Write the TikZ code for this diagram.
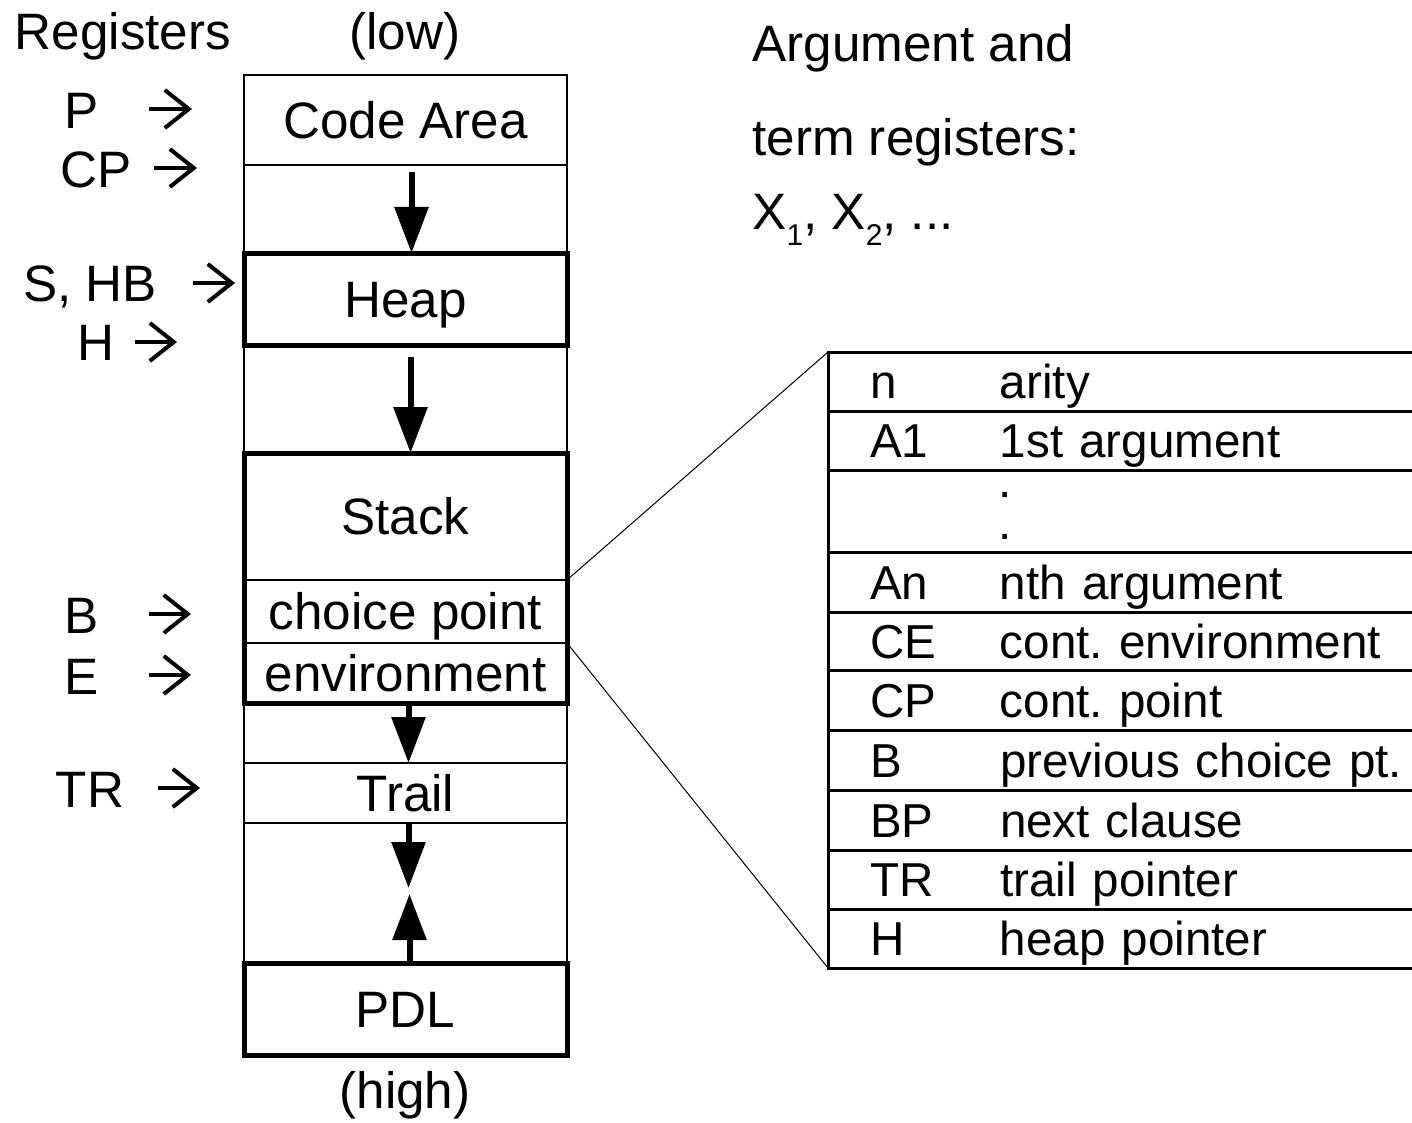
\documentclass[tikz,border=0pt]{standalone}
\usepackage{fontspec}
\setmainfont{Liberation Sans}
\usetikzlibrary{positioning, arrows.meta}
\tikzstyle{memcell} = [rectangle, draw=black, line width=0.6pt, outer sep=0pt, inner sep=0pt, minimum width=161.5pt, text height=19pt, text depth=0.6pt]
\tikzstyle{memarea} = [memcell, line width=2.5pt]
\tikzstyle{reglabel} = [inner sep=0pt, text height=19pt, text depth=0.6pt]
\tikzstyle{ptrarrow} = [line width=2pt, -{Straight Barb[length=12pt, width=19pt]}]
\tikzstyle{tabrow} = [rectangle, draw=black, line width=1.5pt, outer sep=0pt, inner xsep=21pt, inner ysep=0pt, minimum width=310pt, text width=268pt, align=left, font=\fontsize{23.8}{28}\selectfont, text height=17.6pt, text depth=0.6pt]
\tikzstyle{tabdot} = [anchor=base west, inner sep=0pt, text height=3pt, text depth=0pt, font=\fontsize{23.8}{28}\selectfont]
\tikzstyle{growarrow} = [line width=3pt, -{Triangle[width=16.5pt, length=23pt]}]

\begin{document}
\frenchspacing
\begin{tikzpicture}[x=0.5pt, y=-0.5pt, font=\fontsize{25.6}{30}\selectfont]
        \useasboundingbox (0,0) rectangle (1412,1123);
        % Memory areas
        \node (code) [memcell, minimum height=45pt] at (405.5,120) {Code Area};
        \node (freeA) [memcell, minimum height=44pt, below=0pt of code] {};
        \node (heap) [memarea, minimum height=46pt, below=0pt of freeA] {Heap};
        \node (freeB) [memcell, minimum height=54pt, below=0pt of heap] {};
        \node (stk) [memcell, minimum height=63.5pt, below=0pt of freeB] {Stack};
        \node (choice) [memcell, minimum height=31.5pt, below=0pt of stk] {choice point};
        \node (env) [memcell, minimum height=30pt, below=0pt of choice] {environment};
        \node (freeC) [memcell, minimum height=30pt, below=0pt of env] {};
        \node (trail) [memcell, minimum height=30pt, below=0pt of freeC] {Trail};
        \node (freeD) [memcell, minimum height=70pt, below=0pt of trail] {};
        \node (pdl) [memarea, minimum height=46pt, below=0pt of freeD] {PDL};
        \draw [line width=2.5pt] (stk.north west) rectangle (env.south east);
        \node (low) [reglabel] at (405,31) {(low)};
        \node (high) [reglabel] at (405,1090) {(high)};

        % Registers
        \node (regs) [reglabel] at (123,31) {Registers};
        \node (regP) [reglabel] at (82,110) {P};
        \node (regCP) [reglabel] at (96,169) {CP};
        \node (regS) [reglabel] at (90,283) {S, HB};
        \node (regH) [reglabel] at (96,342) {H};
        \node (regB) [reglabel] at (82,615) {B};
        \node (regE) [reglabel] at (82,676) {E};
        \node (regTR) [reglabel] at (90,789) {TR};
        \coordinate (ptrP) at (149,109);
        \coordinate (ptrCP) at (154,168);
        \coordinate (ptrS) at (193,283);
        \coordinate (ptrH) at (135,342);
        \coordinate (ptrB) at (149,614);
        \coordinate (ptrE) at (149,675);
        \coordinate (ptrTR) at (158,788);
        \draw [ptrarrow] (ptrP) -- ++(43,0);
        \draw [ptrarrow] (ptrCP) -- ++(43,0);
        \draw [ptrarrow] (ptrS) -- ++(42,0);
        \draw [ptrarrow] (ptrH) -- ++(42,0);
        \draw [ptrarrow] (ptrB) -- ++(42,0);
        \draw [ptrarrow] (ptrE) -- ++(42,0);
        \draw [ptrarrow] (ptrTR) -- ++(42,0);

        % Argument registers
        \node (argA) [anchor=base west, inner sep=0pt] at (752,62) {Argument and};
        \node (argB) [anchor=base west, inner sep=0pt] at (752,156) {term registers:};
        \node (argC) [anchor=base west, inner sep=0pt] at (752,229) {X\raisebox{-8.5pt}{\fontsize{15}{15}\selectfont 1}, X\raisebox{-8.5pt}{\fontsize{15}{15}\selectfont 2}, ...};

        % Choice point frame
        \node (r1) [tabrow, minimum height=29.5pt, anchor=north west] at (828,352) {\makebox[65pt][l]{n}arity};
        \node (r2) [tabrow, minimum height=29.5pt, below=0pt of r1] {\makebox[65pt][l]{A1}1st argument};
        \node (r3) [tabrow, minimum height=41pt, below=0pt of r2] {};
        \node (r4) [tabrow, minimum height=30pt, below=0pt of r3] {\makebox[65pt][l]{An}nth argument};
        \node (r5) [tabrow, minimum height=29pt, below=0pt of r4] {\makebox[65pt][l]{CE}cont. environment};
        \node (r6) [tabrow, minimum height=30pt, below=0pt of r5] {\makebox[65pt][l]{CP}cont. point};
        \node (r7) [tabrow, minimum height=30pt, below=0pt of r6] {\makebox[65pt][l]{B}previous choice pt.};
        \node (r8) [tabrow, minimum height=30pt, below=0pt of r7] {\makebox[65pt][l]{BP}next clause};
        \node (r9) [tabrow, minimum height=29.5pt, below=0pt of r8] {\makebox[65pt][l]{TR}trail pointer};
        \node (r10) [tabrow, minimum height=29.5pt, below=0pt of r9] {\makebox[65pt][l]{H}heap pointer};
        \node (dotA) [tabdot] at (998,497) {.};
        \node (dotB) [tabdot] at (998,539) {.};

        % Arrows
        \draw [growarrow] ([xshift=3pt, yshift=-3.5pt]freeA.north) -- ([xshift=3pt]heap.north);
        \draw [growarrow] ([xshift=2.5pt, yshift=-6pt]heap.south) -- ([xshift=2.5pt]stk.north);
        \draw [growarrow] ([xshift=1.5pt]env.south) -- ([xshift=1.5pt]trail.north);
        \draw [growarrow] ([xshift=1.5pt]trail.south) -- ([xshift=1.5pt, yshift=2.5pt]freeD.center);
        \draw [growarrow] ([xshift=2pt]pdl.north) -- ([xshift=2pt, yshift=-0.5pt]freeD.center);
        \draw [line width=0.5pt] (choice.north east) -- (r1.north west);
        \draw [line width=0.5pt] (env.north east) -- (r10.south west);
    \end{tikzpicture}
\end{document}
